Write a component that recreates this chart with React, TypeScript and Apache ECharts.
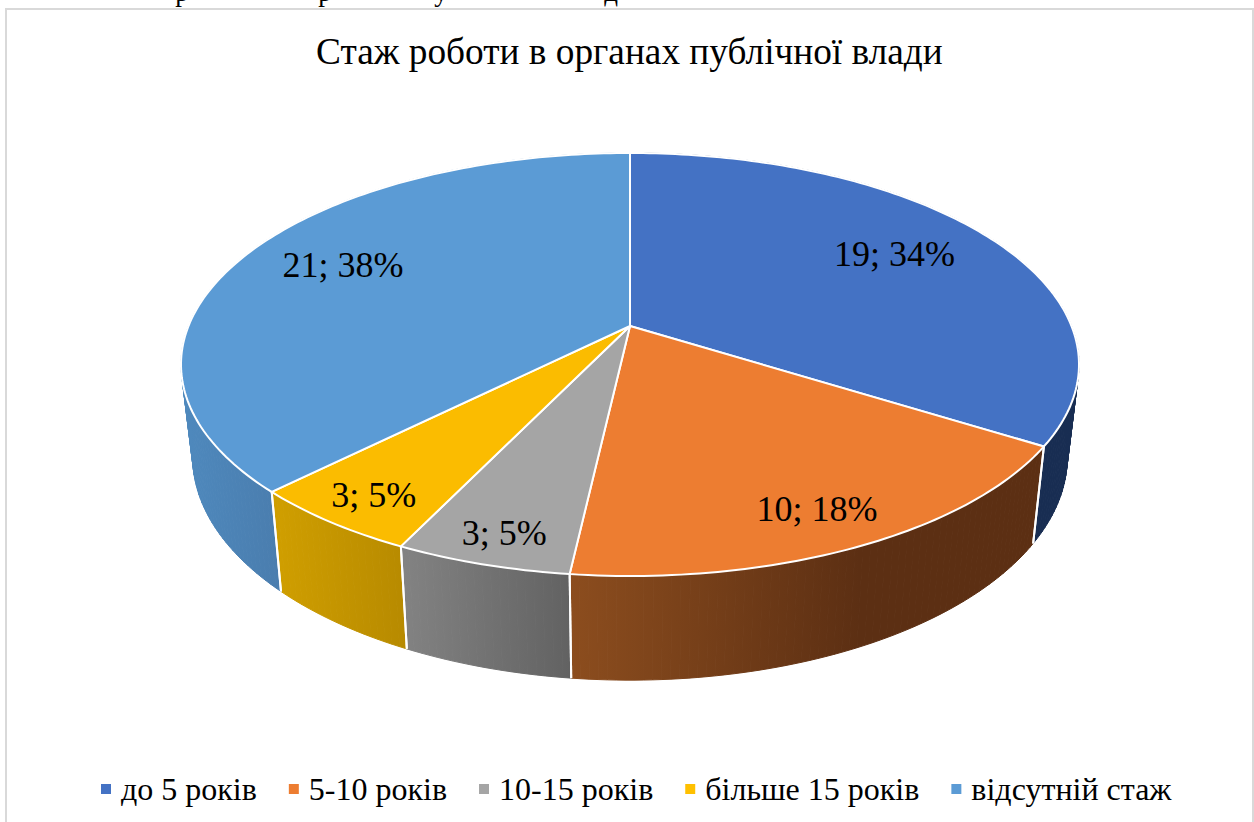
import React, { useEffect, useRef } from "react";
import * as echarts from "echarts";

const titleText = "Стаж роботи в органах публічної влади";
const categories = ["до 5 років", "5-10 років", "10-15 років", "більше 15 років", "відсутній стаж"];
const counts = [19, 10, 3, 3, 21];
const percents = [34, 18, 5, 5, 38];
const colors = ["#4472C4", "#ED7D31", "#A5A5A5", "#FFC000", "#5B9BD5"];
const topColors = ["#4472C4", "#ED7D31", "#A5A5A5", "#FBBC00", "#5B9BD5"];
// Side-wall shading: [x start, colour start, x end, colour end]
const wallShades: [number, string, number, string][] = [
  [1034, "#182D52", 1078, "#182D52"],
  [570, "#8C4D1E", 860, "#5C2F13"],
  [406, "#828282", 570, "#626262"],
  [280, "#CF9E00", 406, "#B78A00"],
  [190, "#4E88BC", 280, "#4A7DAE"],
];
// Label placement on the pie: [fraction of radius, dx, dy]
const labelPlacement: [number, number, number][] = [
  [0.74, -4, -3],
  [0.88, -10, -6],
  [0.89, 3, 0],
  [0.87, -1, 2],
  [0.74, 0, -6],
];
const clippedLetters = ["р", "р", "у", "д"];
const clippedLetterX = [182, 325, 441, 611];

const FONT = "'Liberation Serif', 'Times New Roman', serif";
const total = counts.reduce((a, b) => a + b, 0);

// Perspective projection of the pie's unit disc on to the page
const CX = 630, CY = 326, A = 441.5, B = 204.5, K = 0.182;
const project = (deg: number, r = 1): [number, number] => {
  const t = (deg * Math.PI) / 180;
  const u = r * Math.sin(t), v = -r * Math.cos(t), w = 1 - K * v;
  return [CX + (A * u) / w, CY + (B * v) / w];
};
const projectBottom = (deg: number): [number, number] => {
  const [x, y] = project(deg);
  return [CX + 0.974 * (x - CX), 416.4 + 1.055 * (y - CY)];
};
const arc = (from: number, to: number, fn: (d: number) => [number, number]) => {
  const n = Math.max(2, Math.ceil(to - from));
  const pts: [number, number][] = [];
  for (let i = 0; i <= n; i++) pts.push(fn(from + ((to - from) * i) / n));
  return pts;
};

export default function App() {
  const ref = useRef<HTMLDivElement>(null);
  useEffect(() => {
    document.body.style.margin = "0";
    const chart = echarts.init(ref.current!, undefined, { renderer: "svg" });
    let cum = 0;
    const series = categories.map((name, i) => {
      const start = cum;
      cum += counts[i];
      return {
        type: "custom",
        name,
        coordinateSystem: "none",
        silent: true,
        itemStyle: { color: colors[i] },
        data: [[counts[i], start]],
        renderItem: (_p: any, api: any) => {
          const value = api.value(0);
          const a0 = (api.value(1) / total) * 360;
          const a1 = a0 + (value / total) * 360;
          const top = arc(a0, a1, (d) => project(d));
          const bottom = arc(a0, a1, projectBottom);
          const [sx, sc, ex, ec] = wallShades[i];
          const [lr, dx, dy] = labelPlacement[i];
          const [lx, ly] = project((a0 + a1) / 2, lr);
          const wallFill = () =>
            new echarts.graphic.LinearGradient(sx, 0, ex, 0, [
              { offset: 0, color: sc },
              { offset: 1, color: ec },
            ], true);
          const quads = top.slice(0, -1).map((p, k) => ({
            type: "polygon",
            z2: 1,
            shape: { points: [p, top[k + 1], bottom[k + 1], bottom[k]] },
            style: { fill: wallFill(), stroke: wallFill(), lineWidth: 1 },
          }));
          const edge = (k: number) => ({
            type: "polyline",
            z2: 2,
            shape: { points: [top[k], bottom[k]] },
            style: { fill: "none", stroke: "#FFFFFF", lineWidth: 2 },
          });
          return {
            type: "group",
            children: [
              ...quads,
              edge(0),
              edge(top.length - 1),
              {
                type: "polygon",
                z2: 10,
                shape: { points: [[CX, CY], ...top] },
                style: { fill: topColors[i], stroke: "#FFFFFF", lineWidth: 2, lineJoin: "round" },
              },
              {
                type: "text",
                z2: 20,
                x: lx + dx,
                y: ly + dy,
                style: {
                  text: `${counts[i]}; ${percents[i]}%`,
                  font: `36px ${FONT}`,
                  fill: "#000000",
                  align: "center",
                  verticalAlign: "middle",
                },
              },
            ],
          };
        },
      };
    });
    chart.setOption({
      animation: false,
      backgroundColor: "#FFFFFF",
      title: {
        text: titleText,
        left: 316,
        top: 33,
        padding: 0,
        itemGap: 0,
        textStyle: { fontFamily: FONT, fontSize: 37.3, fontWeight: "normal", color: "#000000" },
      },
      legend: {
        left: 101,
        top: 773,
        padding: 0,
        itemWidth: 10,
        itemHeight: 10,
        itemGap: 32,
        icon: "rect",
        selectedMode: false,
        textStyle: { fontFamily: FONT, fontSize: 32, color: "#000000", padding: [0, 0, 0, 5] },
        data: categories,
      },
      graphic: [
        {
          type: "rect",
          silent: true,
          shape: { x: 6, y: 9, width: 1247, height: 830 },
          style: { fill: "none", stroke: "#D9D9D9", lineWidth: 2 },
        },
        ...clippedLetters.map((t, i) => ({
          type: "text",
          silent: true,
          x: clippedLetterX[i],
          y: 5,
          style: { text: t, font: `27px ${FONT}`, fill: "#000000", align: "center", verticalAlign: "bottom" },
        })),
      ],
      series,
    });
    return () => chart.dispose();
  }, []);
  return <div ref={ref} style={{ width: 1254, height: 822 }} />;
}
